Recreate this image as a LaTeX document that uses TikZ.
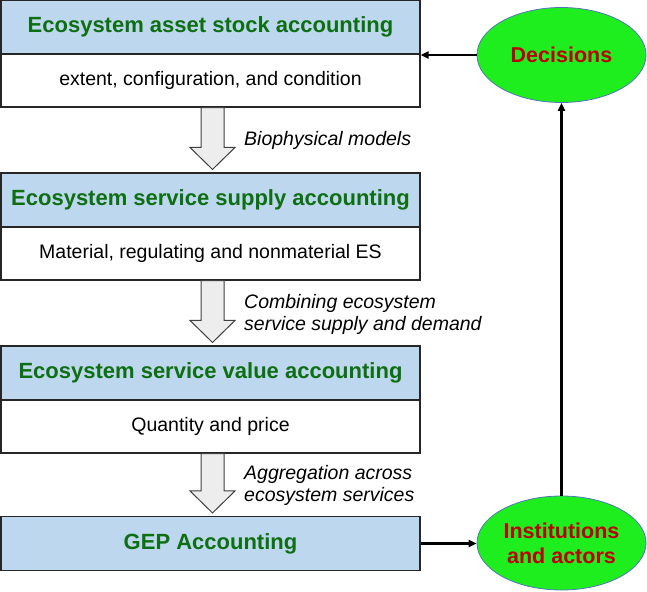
\documentclass[tikz,border=0pt]{standalone}
\usepackage{fontspec}
\setmainfont{Liberation Sans}
\usetikzlibrary{calc,shapes.geometric,arrows.meta}
\definecolor{hdrblue}{HTML}{BDD7EE}
\definecolor{hdrgreen}{HTML}{0E6E12}
\definecolor{elgreen}{HTML}{1EEE1E}
\definecolor{elred}{HTML}{C00000}
\definecolor{elborder}{HTML}{5277B8}
\definecolor{arrfill}{HTML}{EDEDED}
\definecolor{arrdraw}{HTML}{404040}
\begin{document}
\begin{tikzpicture}[x=1pt,y=-1pt,
  hdr/.style={draw=black!85,line width=1.1pt,fill=hdrblue,minimum width=419pt,minimum height=54pt,inner sep=0pt,
    font=\fontsize{22}{26}\selectfont\bfseries,text=hdrgreen},
  bodybox/.style={draw=black!85,line width=1.1pt,fill=white,minimum width=419pt,minimum height=53pt,inner sep=0pt,
    font=\fontsize{19.5}{23}\selectfont},
  lbl/.style={anchor=west,align=left,inner sep=0pt,font=\fontsize{19.5}{22}\selectfont\itshape},
  oval/.style={ellipse,draw=elborder,line width=0.8pt,fill=elgreen,minimum width=169pt,inner sep=0pt,
    font=\fontsize{21.5}{25}\selectfont\bfseries,text=elred,align=center},
  blk/.style={draw=arrdraw,line width=1pt,fill=arrfill,line join=miter},
  conn/.style={draw=black,line width=2.2pt,-{Triangle[length=8pt,width=7pt]}}
]
\useasboundingbox (0,0) rectangle (647,591);

\node[hdr] (h1) at (210.5,27) {Ecosystem asset stock accounting};
\node[bodybox] (b1) at (210.5,80.5) {extent, configuration, and condition};
\node[hdr] (h2) at (210.5,200) {Ecosystem service supply accounting};
\node[bodybox] (b2) at (210.5,253.5) {Material, regulating and nonmaterial ES};
\node[hdr] (h3) at (210.5,373) {Ecosystem service value accounting};
\node[bodybox] (b3) at (210.5,426.5) {Quantity and price};
\node[hdr] (h4) at (210.5,543.5) {GEP Accounting};

\node[oval,minimum height=95pt] (dec) at (561.5,55) {Decisions};
\node[oval,minimum height=94pt] (inst) at (561.5,543) {Institutions\\and actors};

% block arrows
\foreach \a/\b in {b1/h2,b2/h3,b3/h4}{
  \draw[blk] ($(\a.south)+(-9.5,0)$) -- ($(\a.south)+(13.5,0)$) -- ($(\b.north)+(13.5,-25)$)
    -- ($(\b.north)+(24.5,-25)$) -- ($(\b.north)+(2,-3)$) -- ($(\b.north)+(-20.5,-25)$)
    -- ($(\b.north)+(-9.5,-25)$) -- cycle;
}

\node[lbl] (l1) at (244,140) {Biophysical models};
\node[lbl] (l2) at (244,314) {Combining ecosystem\\service supply and demand};
\node[lbl] (l3) at (244,485) {Aggregation across\\ecosystem services};

\draw[conn] (dec.west) -- (dec.west -| h1.east);
\draw[conn] (h4.east) -- (h4.east -| inst.west);
\draw[conn] (inst.north) -- (dec.south);
\end{tikzpicture}
\end{document}
